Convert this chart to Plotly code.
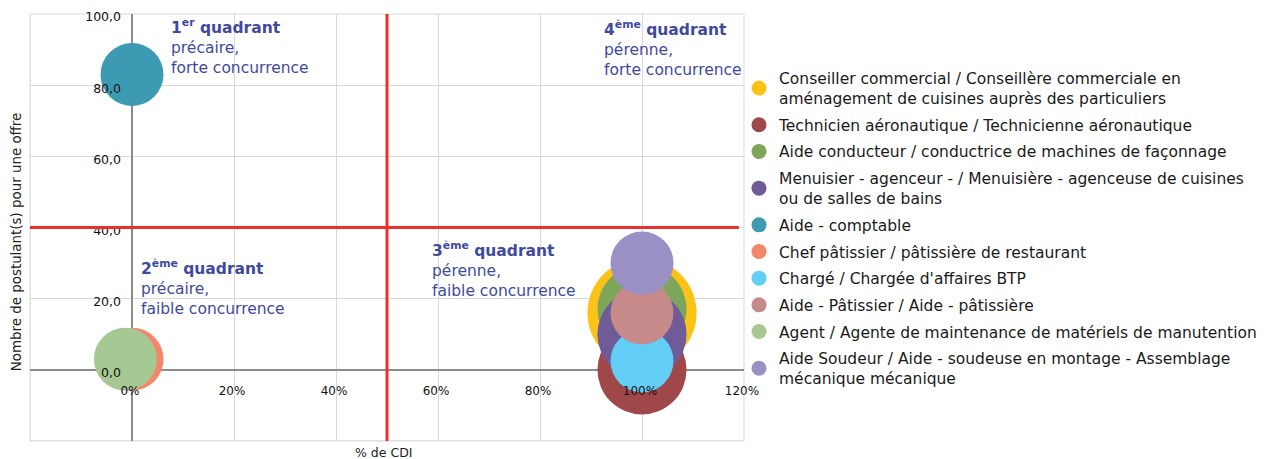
import plotly.graph_objects as go

# ---- data ----
metiers = [
    "Conseiller commercial / Conseillère commerciale en<br>aménagement de cuisines auprès des particuliers",
    "Technicien aéronautique / Technicienne aéronautique",
    "Aide conducteur / conductrice de machines de façonnage",
    "Menuisier - agenceur - / Menuisière - agenceuse de cuisines<br>ou de salles de bains",
    "Aide - comptable",
    "Chef pâtissier / pâtissière de restaurant",
    "Chargé / Chargée d'affaires BTP",
    "Aide - Pâtissier / Aide - pâtissière",
    "Agent / Agente de maintenance de matériels de manutention",
    "Aide Soudeur / Aide - soudeuse en montage - Assemblage<br>mécanique mécanique",
]
pct_cdi = [1.0, 1.0, 1.0, 1.0, 0.0, 0.0, 1.0, 1.0, -0.013, 1.0]
postulants = [16, 0, 17, 10, 83, 3, 2.5, 16, 3, 30]
nb_offres = [3, 2, 2, 2, 1, 1, 1, 1, 1, 1]
couleurs = ["#FDC218", "#A0474A", "#7EA65A", "#6E5B98", "#3D9AB3",
            "#F4866A", "#63CEF5", "#C78A8B", "#A6C893", "#9B90C6"]

x_ticks = [-0.2, 0, 0.2, 0.4, 0.6, 0.8, 1.0, 1.2]
y_ticks = [-20, 0, 20, 40, 60, 80, 100]
seuil_cdi = 0.5
seuil_postulants = 40

FONT = "DejaVu Sans"
BLUE = "#3F4A9F"
RED = "#EC2F2B"

fig = go.Figure()
for i in range(len(metiers)):
    fig.add_trace(go.Scatter(
        x=[pct_cdi[i]], y=[postulants[i]], mode="markers",
        name=metiers[i], legendgroup=str(i), showlegend=False,
        marker=dict(size=[nb_offres[i]], sizemode="area", sizeref=2 / 63 ** 2,
                    color=couleurs[i], opacity=1, line=dict(width=0)),
        cliponaxis=False,
    ))
# legend entries (constant symbol size)
for i in range(len(metiers)):
    fig.add_trace(go.Scatter(
        x=[None], y=[None], mode="markers", name=metiers[i], legendgroup=str(i),
        showlegend=True, marker=dict(size=15, color=couleurs[i], line=dict(width=0)),
    ))

shapes = [
    dict(type="rect", xref="paper", yref="paper", x0=0, x1=1, y0=0, y1=1,
         line=dict(color="#D9D9D9", width=1), layer="below"),
    dict(type="line", xref="x", yref="y", x0=seuil_cdi, x1=seuil_cdi, y0=-20, y1=100,
         line=dict(color=RED, width=3), layer="above"),
    dict(type="line", xref="x", yref="y", x0=-0.2, x1=1.19, y0=seuil_postulants, y1=seuil_postulants,
         line=dict(color=RED, width=3), layer="above"),
]

quadrants = [
    (0.072, 99.9, "<b>1<sup>er</sup> quadrant</b><br>précaire,<br>forte concurrence"),
    (0.013, 32.3, "<b>2<sup>ème</sup> quadrant</b><br>précaire,<br>faible concurrence"),
    (0.585, 37.3, "<b>3<sup>ème</sup> quadrant</b><br>pérenne,<br>faible concurrence"),
    (0.921, 99.4, "<b>4<sup>ème</sup> quadrant</b><br>pérenne,<br>forte concurrence"),
]
annotations = []
for qx, qy, qt in quadrants:
    annotations.append(dict(x=qx, y=qy, xref="x", yref="y", text=qt, showarrow=False,
                            xanchor="left", yanchor="top", align="left",
                            font=dict(family=FONT, size=15.5, color=BLUE)))
annotations.append(dict(x=0.495, y=-0.005, xref="x", yref="paper", text="% de CDI", showarrow=False,
                        xanchor="center", yanchor="top", font=dict(family=FONT, size=12.5, color="#222")))
annotations.append(dict(x=-0.0185, xref="paper", y=0.465, yref="paper",
                        text="Nombre de postulant(s) pour une offre",
                        showarrow=False, textangle=-90, xanchor="center", yanchor="middle",
                        font=dict(family=FONT, size=13.4, color="#222")))

# the page body adds an 8px offset: size and margins compensate for it
fig.update_layout(
    width=1259, height=451,
    margin=dict(l=22, r=523, t=6, b=18, autoexpand=False),
    paper_bgcolor="white", plot_bgcolor="white",
    separators=", ",
    font=dict(family=FONT, color="#111"),
    showlegend=True,
    legend=dict(x=0.993, xanchor="left", y=0.889, yanchor="top",
                font=dict(family=FONT, size=15.5, color="#1a1a1a"),
                tracegroupgap=3.5, bgcolor="rgba(0,0,0,0)"),
    xaxis=dict(range=[-0.2, 1.2], tickvals=x_ticks[1:], tickformat=".0%",
               showgrid=True, gridcolor="#D9D9D9", gridwidth=1,
               zeroline=True, zerolinecolor="#8C8C8C", zerolinewidth=2,
               anchor="free", position=20 / 120, ticks="", showline=False,
               ticklabeloverflow="allow", ticklabelshift=-2,
               ticklabelstandoff=12, tickfont=dict(family=FONT, size=12, color="#111")),
    yaxis=dict(range=[-20, 100], tickvals=y_ticks[1:], tickformat=".1f",
               showgrid=True, gridcolor="#D9D9D9", gridwidth=1,
               zeroline=True, zerolinecolor="#8C8C8C", zerolinewidth=2,
               anchor="free", position=0.2 / 1.4, ticks="", showline=False,
               ticklabeloverflow="allow", ticklabelshift=3,
               ticklabelstandoff=11, tickfont=dict(family=FONT, size=12.5, color="#111")),
    shapes=shapes,
    annotations=annotations,
)
fig.add_vline(x=x_ticks[0], line=dict(color="#D9D9D9", width=1), layer="below")
fig.add_hline(y=y_ticks[0], line=dict(color="#D9D9D9", width=1), layer="below")

fig.write_html("out.html")
